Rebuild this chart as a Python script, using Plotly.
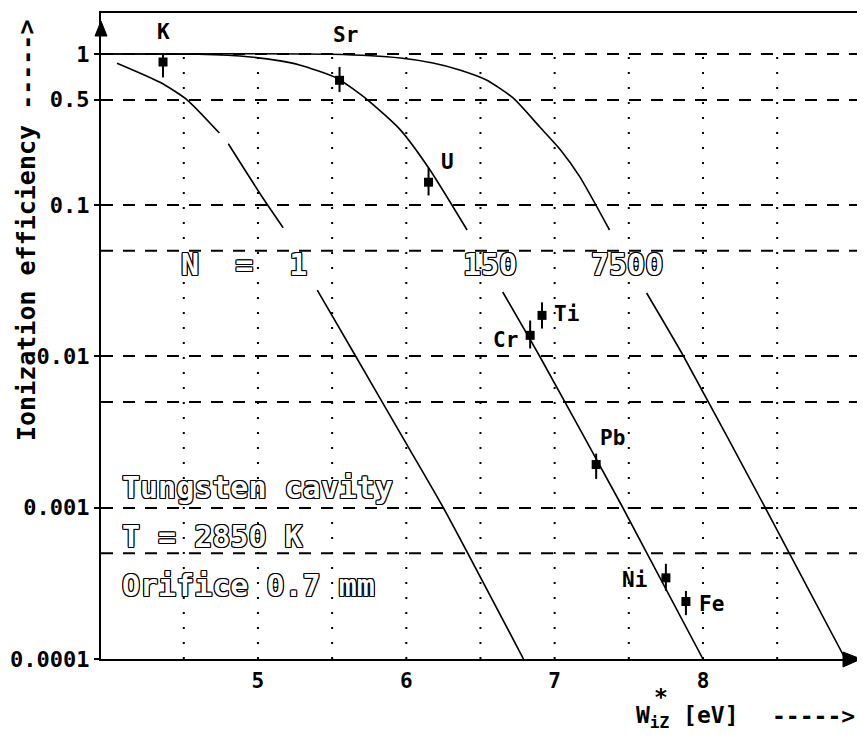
import plotly.graph_objects as go
import math

# ---------------- data ----------------
# Model curves (None marks a break in the printed curve)
n1_x = [4.05, 4.34, 4.52, 4.74, None, 4.80, 5.03, 5.17, None, 5.40, 5.66, 5.96, 6.25, 6.79]
n1_y = [0.87, 0.65, 0.50, 0.30, None, 0.255, 0.113, 0.071, None, 0.0275, 0.010, 0.0031, 0.0010, 0.0001]

n150_x = [3.94, 4.60, 4.95, 5.15, 5.28, 5.53, 5.74, 5.96, 6.16, 6.41, None, 6.65, 6.90, 7.46, 8.00]
n150_y = [1.0, 0.995, 0.955, 0.90, 0.846, 0.694, 0.496, 0.315, 0.171, 0.0686, None, 0.0267, 0.010, 0.0010, 0.0001]

n7500_x = [3.94, 5.50, 5.96, 6.18, 6.36, 6.54, 6.72, 6.90, 7.04, 7.17, 7.37, None, 7.62, 7.87, 8.42, 8.96]
n7500_y = [1.0, 0.995, 0.94, 0.872, 0.784, 0.673, 0.512, 0.329, 0.232, 0.154, 0.0686, None, 0.0263, 0.010, 0.0010, 0.0001]

# Measured elements
el_names = ["K", "Sr", "U", "Ti", "Cr", "Pb", "Ni", "Fe"]
el_x = [4.36, 5.55, 6.15, 6.915, 6.835, 7.28, 7.75, 7.885]
el_y = [0.885, 0.67, 0.142, 0.0187, 0.0138, 0.00193, 0.000344, 0.000240]
el_hi = [1.015, 0.82, 0.176, 0.0228, 0.0173, 0.00228, 0.000426, 0.000282]
el_lo = [0.70, 0.56, 0.116, 0.0153, 0.0113, 0.00155, 0.000282, 0.000195]

curve_labels = ["N  =  1", "150", "7500"]
curve_label_x = [4.906, 6.564, 7.488]

y_tickvals = [1, 0.5, 0.1, 0.01, 0.001, 0.0001]
y_ticktext = ["1", "0.5", "0.1", "0.01", "0.001", "0.0001"]
y_extra_grid = [0.05, 0.005, 0.0005]
x_tickvals = [5, 6, 7, 8]
x_ticktext = ["5", "6", "7", "8"]
x_gridvals = [4.5, 5, 5.5, 6, 6.5, 7, 7.5, 8, 8.5]

info_lines = ["Tungsten cavity", "T = 2850 K", "Orifice 0.7 mm"]

# ---------------- styling ----------------
# label offsets (pixels) for element names
el_dx = [0, 6, 19, 24, -25, 16, -31, 26]
el_dy = [30, 45, 20, 1, -5, 27, -2, -3]

MONO = "DejaVu Sans Mono"
OUTLINE = ("-1px -1px 0 #000, 1px -1px 0 #000, -1px 1px 0 #000, 1px 1px 0 #000, "
           "0 1px 0 #000, 0 -1px 0 #000, 1px 0 0 #000, -1px 0 0 #000")

XR = [3.942, 9.072]
YR = [-4.0, 0.271]
OFF = 8  # page body margin
W, H = 857, 741
L, R, T, B = 93, 3, 5, 90
PW, PH = W - L - R, H - T - B


def px(xp):  # screen pixel -> paper x
    return (xp - OFF - L) / PW


def py(yp):  # screen pixel -> paper y
    return (H - B - (yp - OFF)) / PH


def ylog_paper(v):
    return (math.log10(v) - YR[0]) / (YR[1] - YR[0])


fig = go.Figure()

for xs, ys in [(n1_x, n1_y), (n150_x, n150_y), (n7500_x, n7500_y)]:
    fig.add_trace(go.Scatter(x=xs, y=ys, mode="lines",
                             line=dict(color="black", width=1.6, shape="spline", smoothing=0.6),
                             connectgaps=False, hoverinfo="skip", showlegend=False))

err_plus = [h - v for h, v in zip(el_hi, el_y)]
err_minus = [v - l for v, l in zip(el_y, el_lo)]
fig.add_trace(go.Scatter(x=el_x, y=el_y, mode="markers",
                         marker=dict(symbol="square", size=9, color="black"),
                         error_y=dict(type="data", symmetric=False, array=err_plus,
                                      arrayminus=err_minus, color="black", thickness=2, width=0),
                         showlegend=False))

# vertical dotted grid (from the bottom up to the 1 level)
y1_frac = ylog_paper(1)
for gx in x_gridvals:
    fig.add_shape(type="line", xref="x", yref="paper", x0=gx, x1=gx, y0=0, y1=y1_frac,
                  line=dict(color="black", width=2, dash="2px,13px"), layer="below")

# extra dashed horizontal grid lines (unlabelled levels)
for gy in y_extra_grid:
    f = ylog_paper(gy)
    fig.add_shape(type="line", xref="paper", yref="paper", x0=0, x1=1, y0=f, y1=f,
                  line=dict(color="black", width=2, dash="12px,10px"), layer="below")

# element labels
for name, x, y, dx, dy in zip(el_names, el_x, el_y, el_dx, el_dy):
    fig.add_annotation(x=x, y=math.log10(y), text=name, showarrow=False,
                       xshift=dx, yshift=dy, xanchor="center", yanchor="middle",
                       font=dict(family=MONO, size=21, color="black", weight="bold"))

# curve labels (outlined)
for t, x in zip(curve_labels, curve_label_x):
    fig.add_annotation(x=x, y=-1.395, text=t, showarrow=False, xanchor="center", yanchor="middle",
                       font=dict(family=MONO, size=30, color="white", weight="bold", shadow=OUTLINE))

# info block (outlined)
for t, ly in zip(info_lines, [-2.869, -3.187, -3.511]):
    fig.add_annotation(x=4.07, y=ly, text=t, showarrow=False, xanchor="left", yanchor="middle",
                       font=dict(family=MONO, size=30, color="white", weight="bold", shadow=OUTLINE))

# axis titles
fig.add_annotation(xref="paper", yref="paper", x=px(26), y=py(231), text="Ionization efficiency ----->",
                   textangle=-90, showarrow=False, xanchor="center", yanchor="middle",
                   font=dict(family=MONO, size=25, color="black", weight="bold"))
fig.add_annotation(xref="paper", yref="paper", x=px(634), y=py(717),
                   xanchor="left", yanchor="middle", text="W<sub>iZ</sub> [eV]", showarrow=False,
                   font=dict(family=MONO, size=23, color="black", weight="bold"))
fig.add_annotation(xref="paper", yref="paper", x=px(661), y=py(697),
                   text="*", showarrow=False, xanchor="center", yanchor="middle",
                   font=dict(family=MONO, size=23, color="black", weight="bold"))
fig.add_annotation(xref="paper", yref="paper", x=px(857), y=py(716),
                   xanchor="right", yanchor="middle", text="----->", showarrow=False,
                   font=dict(family=MONO, size=23, color="black", weight="bold"))

# axis arrow heads
fig.add_shape(type="path", xref="paper", yref="paper",
              path=f"M {px(95)} {py(36)} L {px(107)} {py(36)} L {px(101)} {py(21)} Z",
              fillcolor="black", line=dict(color="black", width=1))
fig.add_shape(type="path", xref="paper", yref="paper",
              path=f"M {px(843)} {py(652)} L {px(843)} {py(667)} L {px(861)} {py(659)} Z",
              fillcolor="black", line=dict(color="black", width=1))

fig.update_layout(
    width=W, height=H,
    margin=dict(l=L, r=R, t=T, b=B, autoexpand=False),
    plot_bgcolor="white", paper_bgcolor="white",
    showlegend=False,
    xaxis=dict(range=XR, showline=True, mirror=True, linecolor="black", linewidth=2,
               tickvals=x_tickvals, ticktext=x_ticktext, showgrid=False, zeroline=False,
               automargin=False, ticks="", ticklabelstandoff=2,
               tickfont=dict(family=MONO, size=21, color="black", weight="bold")),
    yaxis=dict(type="log", range=YR, showline=True, mirror=True, linecolor="black", linewidth=2,
               tickvals=y_tickvals, ticktext=y_ticktext, showgrid=True, gridcolor="black",
               gridwidth=2, griddash="12px,10px", zeroline=False, automargin=False,
               ticks="outside", ticklen=5, tickwidth=2, tickcolor="black",
               tickfont=dict(family=MONO, size=22, color="black", weight="bold")),
)

fig.write_html("out.html")
